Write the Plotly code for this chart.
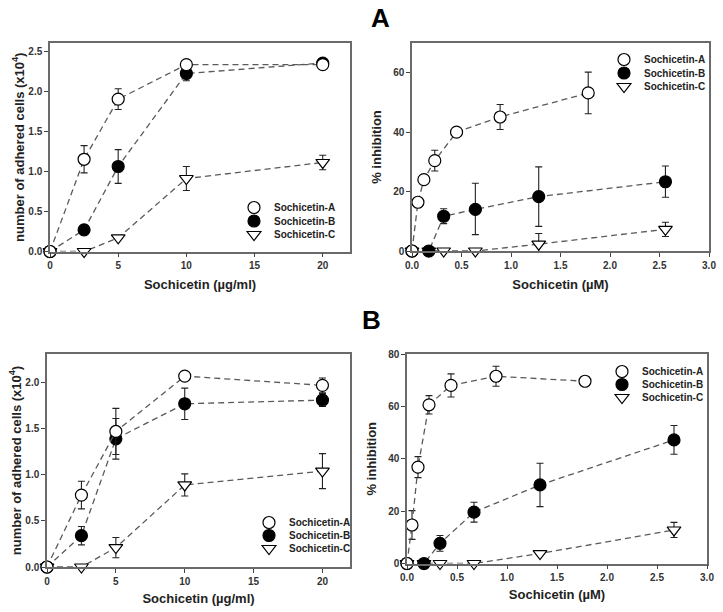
import plotly.graph_objects as go

# ---------------- data ----------------
series_names = ["Sochicetin-A", "Sochicetin-B", "Sochicetin-C"]

# Panel A-left: adhered cells vs concentration (µg/ml)
conc_ug = [0, 2.5, 5, 10, 20]
a1_A = [0, 1.15, 1.90, 2.33, 2.33]
a1_A_err = [0, 0.17, 0.13, 0.05, 0.02]
a1_B = [0, 0.27, 1.06, 2.22, 2.35]
a1_B_err = [0, 0.06, 0.21, 0.09, 0.04]
a1_C = [0, 0, 0.17, 0.91, 1.11]
a1_C_err = [0, 0, 0, 0.15, 0.09]

# Panel A-right: % inhibition vs µM
a2_xA = [0, 0.06, 0.12, 0.23, 0.45, 0.89, 1.78]
a2_A = [0, 16.4, 24.0, 30.4, 40.0, 45.1, 53.2]
a2_A_err = [0, 0, 0, 3.5, 1.0, 4.2, 7.0]
a2_xB = [0, 0.17, 0.32, 0.64, 1.28, 2.56]
a2_B = [0, 0, 11.7, 14.0, 18.3, 23.3]
a2_B_errp = [0, 0, 2.5, 8.8, 10.0, 5.3]
a2_B_errm = [0, 0, 2.5, 8.5, 10.0, 5.2]
a2_xC = [0, 0.17, 0.32, 0.64, 1.28, 2.56]
a2_C = [0, 0, 0, 0, 2.3, 7.3]
a2_C_err = [0, 0, 0, 0, 3.6, 2.4]

# Panel B-left
b1_A = [0, 0.78, 1.47, 2.07, 1.97]
b1_A_err = [0, 0.15, 0.25, 0.02, 0.08]
b1_B = [0, 0.34, 1.39, 1.77, 1.81]
b1_B_err = [0, 0.10, 0.22, 0.17, 0.07]
b1_C = [0, 0, 0.21, 0.89, 1.04]
b1_C_err = [0, 0, 0.11, 0.12, 0.19]

# Panel B-right
b2_xA = [0, 0.05, 0.11, 0.22, 0.44, 0.89, 1.78]
b2_A = [0, 14.7, 36.8, 60.6, 68.0, 71.5, 69.6]
b2_A_err = [0, 5.5, 4.0, 3.5, 4.4, 3.8, 0]
b2_xB = [0, 0.17, 0.33, 0.67, 1.33, 2.67]
b2_B = [0, 0, 7.7, 19.6, 30.0, 47.2]
b2_B_err = [0, 0, 3.0, 3.8, 8.3, 5.5]
b2_xC = [0, 0.17, 0.33, 0.67, 1.33, 2.67]
b2_C = [0, 0, 0, 0, 3.8, 12.8]
b2_C_err = [0, 0, 0, 0, 0, 2.9]

# ---------------- styling ----------------
FONT = "Liberation Sans, Arial, sans-serif"
LINE_COLOR = "#5a5a5a"
styles = [
    dict(symbol="circle", color="white"),
    dict(symbol="circle", color="black"),
    dict(symbol="triangle-down", color="white"),
]
W, H = 723, 612
MSIZE = 12

fig = go.Figure()


def add_series(xs, ys, errp, errm, k, xa, ya):
    st = styles[k]
    fig.add_trace(go.Scatter(
        x=xs, y=ys, mode="lines+markers", xaxis=xa, yaxis=ya,
        showlegend=False, cliponaxis=False,
        line=dict(color=LINE_COLOR, width=1.3, dash="6px,4px"),
        marker=dict(symbol=st["symbol"], color=st["color"], size=MSIZE,
                    line=dict(color="black", width=1.2)),
        error_y=dict(type="data", array=errp, arrayminus=errm,
                     symmetric=False, color="#222222", thickness=1.1, width=3.5),
    ))


legend_font = dict(family=FONT, size=10, color="#222222", weight="bold")
legend_layouts = {}
legend_counter = [0]


def add_legend_entry(k, mx, my):
    legend_counter[0] += 1
    n = legend_counter[0]
    name = "legend" if n == 1 else f"legend{n}"
    st = styles[k]
    fig.add_trace(go.Scatter(
        x=[None], y=[None], mode="markers", name=series_names[k],
        legend=name, xaxis="x", yaxis="y",
        marker=dict(symbol=st["symbol"], color=st["color"], size=MSIZE,
                    line=dict(color="black", width=1.2)),
    ))
    legend_layouts[name] = dict(
        x=(mx - 21) / W, y=1 - (my - 14) / H, xanchor="left", yanchor="top",
        bgcolor="rgba(0,0,0,0)", font=legend_font, itemwidth=30)


# legend symbol positions (pixels) for each panel: x of symbol, y of rows
legend_pos = [
    (255, [207, 220.5, 234]),
    (625, [59, 72.5, 86]),
    (270, [522, 535, 548]),
    (623, [371, 384, 397]),
]

panels = [
    ("x", "y", [(conc_ug, a1_A, a1_A_err, a1_A_err),
                (conc_ug, a1_B, a1_B_err, a1_B_err),
                (conc_ug, a1_C, a1_C_err, a1_C_err)]),
    ("x2", "y2", [(a2_xA, a2_A, a2_A_err, a2_A_err),
                  (a2_xB, a2_B, a2_B_errp, a2_B_errm),
                  (a2_xC, a2_C, a2_C_err, a2_C_err)]),
    ("x3", "y3", [(conc_ug, b1_A, b1_A_err, b1_A_err),
                  (conc_ug, b1_B, b1_B_err, b1_B_err),
                  (conc_ug, b1_C, b1_C_err, b1_C_err)]),
    ("x4", "y4", [(b2_xA, b2_A, b2_A_err, b2_A_err),
                  (b2_xB, b2_B, b2_B_err, b2_B_err),
                  (b2_xC, b2_C, b2_C_err, b2_C_err)]),
]

for p, (xa, ya, series) in enumerate(panels):
    for k in [2, 1, 0]:
        xs, ys, ep, em = series[k]
        add_series(xs, ys, ep, em, k, xa, ya)
    mx, rows = legend_pos[p]
    for k in range(3):
        add_legend_entry(k, mx, rows[k])


def dx(a, b):
    return [a / W, b / W]


def dy(top, bottom):
    return [1 - bottom / H, 1 - top / H]


tickfont = dict(family=FONT, size=10, color="#333333", weight="bold")
titlefont = dict(family=FONT, size=13, color="#222222")


def axis(domain, rng, dtick, title, anchor, standoff, fmt):
    return dict(
        domain=domain, range=rng, dtick=dtick, anchor=anchor, automargin=False,
        showgrid=False, zeroline=False, showline=True, mirror=True,
        linecolor="#6a6a6a", linewidth=1.5,
        ticks="outside", ticklen=4, tickwidth=1, tickcolor="#444444",
        tickfont=tickfont, tickformat=fmt,
        title=dict(text=title, font=titlefont, standoff=standoff),
    )


xtitle_ug = "<b>Sochicetin (µg/ml)</b>"
xtitle_uM = "<b>Sochicetin (µM)</b>"
ytitle_cells = "<b>number of adhered cells (x10<sup>4</sup>)</b>"
ytitle_inh = "<b>% inhibition</b>"

fig.update_layout(
    width=W, height=H,
    margin=dict(l=0, r=0, t=0, b=0, autoexpand=False),
    paper_bgcolor="white", plot_bgcolor="white",
    font=dict(family=FONT),
    xaxis=axis(dx(50, 350), [0, 22], 5, xtitle_ug, "y", 10, "d"),
    yaxis=axis(dy(43, 251.5), [0, 2.6], 0.5, ytitle_cells, "x", 1, ".1f"),
    xaxis2=axis(dx(412, 709), [0, 3], 0.5, xtitle_uM, "y2", 10, ".1f"),
    yaxis2=axis(dy(43, 251), [0, 70], 20, ytitle_inh, "x2", 9, "d"),
    xaxis3=axis(dx(47, 350), [0, 22], 5, xtitle_ug, "y3", 8, "d"),
    yaxis3=axis(dy(354, 567), [0, 2.31], 0.5, ytitle_cells, "x3", 1, ".1f"),
    xaxis4=axis(dx(407, 707), [0, 3], 0.5, xtitle_uM, "y4", 8, ".1f"),
    yaxis4=axis(dy(354, 563.5), [0, 80], 20, ytitle_inh, "x4", 9, "d"),
    **legend_layouts,
)

fig.add_annotation(text="<b>A</b>", x=380 / W, y=1 - 18 / H, xref="paper", yref="paper",
                   xanchor="center", yanchor="middle",
                   showarrow=False, font=dict(family=FONT, size=26, color="black"))
fig.add_annotation(text="<b>B</b>", x=372 / W, y=1 - 320 / H, xref="paper", yref="paper",
                   xanchor="center", yanchor="middle",
                   showarrow=False, font=dict(family=FONT, size=26, color="black"))

fig.write_html("out.html", config={"displayModeBar": False},
               post_script="document.body.style.margin='0px';")
